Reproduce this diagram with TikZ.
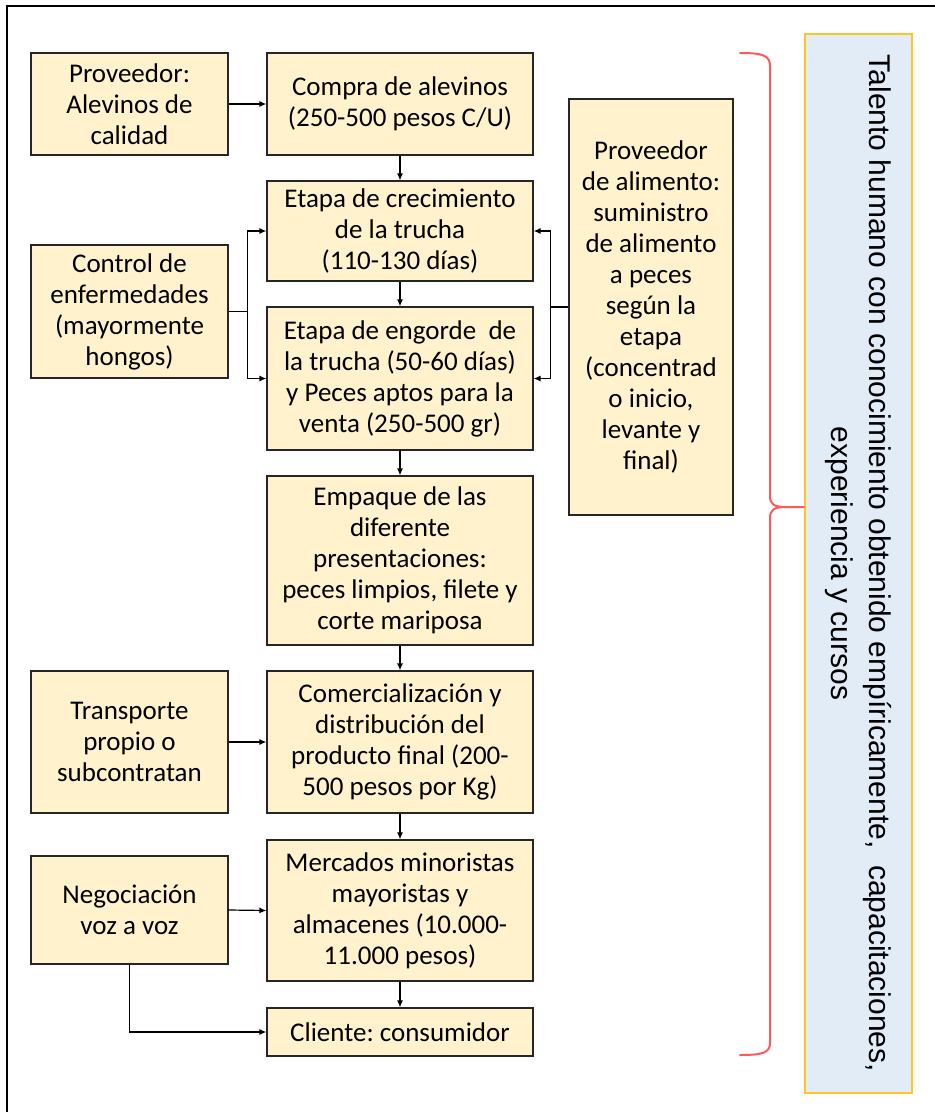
\documentclass[tikz,border=0pt]{standalone}
\usepackage{fontspec}
\setmainfont{Carlito}
\newfontfamily\sidefont{Liberation Sans}
\usetikzlibrary{arrows.meta}
\frenchspacing

\definecolor{boxfill}{HTML}{FFF2CC}
\definecolor{boxline}{HTML}{262626}
\definecolor{sidefill}{HTML}{E2ECF7}
\definecolor{sideline}{HTML}{FFC526}
\definecolor{bracered}{HTML}{FF5A5A}

\tikzset{
  stagebox/.style={draw=boxline, fill=boxfill, line width=1.2pt, align=center,
    inner sep=0pt, font=\fontsize{27}{31}\selectfont},
  conn/.style={draw=black, line width=1.2pt},
  flow/.style={conn, -{Latex[length=7pt,width=6pt]}},
  bracestroke/.style={draw=bracered, line width=2pt, line cap=round, line join=round},
  sidebox/.style={draw=sideline, fill=sidefill, line width=2pt, align=center, inner sep=0pt,
    font=\sidefont\fontsize{30}{38}\selectfont}
}

\begin{document}
\begin{tikzpicture}[x=1pt,y=-1pt]
\useasboundingbox (0,0) rectangle (935,1112);

% outer frame (left and top edges)
\draw[line width=1.5pt] (7,1120) -- (7,6) -- (945,6);

% left column
\node[stagebox, minimum width=197pt, minimum height=102pt] (prov) at (129.5,104)
  {Proveedor:\\Alevinos de\\calidad};
\node[stagebox, minimum width=197pt, minimum height=133pt] (ctrl) at (129.5,311.5)
  {Control de\\enfermedades\\(mayormente\\hongos)};
\node[stagebox, minimum width=197pt, minimum height=142pt] (transp) at (129.5,742)
  {Transporte\\propio o\\subcontratan};
\node[stagebox, minimum width=197pt, minimum height=108pt] (neg) at (129.5,910)
  {Negociación\\voz a voz};

% main chain
\node[stagebox, minimum width=266pt, minimum height=102pt] (compra) at (400,104)
  {Compra de alevinos\\(250-500 pesos C/U)};
\node[stagebox, minimum width=266pt, minimum height=100pt] (crec) at (400,231)
  {Etapa de crecimiento\\de la trucha\\(110-130 días)};
\node[stagebox, minimum width=266pt, minimum height=143pt] (engorde) at (400,378.5)
  {Etapa de engorde\ \ de\\la trucha (50-60 días)\\y Peces aptos para la\\venta (250-500 gr)};
\node[stagebox, minimum width=266pt, minimum height=169pt] (empaque) at (400,560.5)
  {Empaque de las\\diferente\\presentaciones:\\peces limpios, filete y\\corte mariposa};
\node[stagebox, minimum width=266pt, minimum height=142pt] (comerc) at (400,742)
  {Comercialización y\\distribución del\\producto final (200-\\500 pesos por Kg)};
\node[stagebox, minimum width=266pt, minimum height=141pt] (merc) at (400,910.5)
  {Mercados minoristas\\mayoristas y\\almacenes (10.000-\\11.000 pesos)};
\node[stagebox, minimum width=266pt, minimum height=48pt] (cliente) at (400,1032)
  {Cliente: consumidor};

% feed supplier
\node[stagebox, minimum width=164pt, minimum height=416pt] (alim) at (651,307)
  {Proveedor\\de alimento:\\suministro\\de alimento\\a peces\\según la\\etapa\\(concentrad\\o inicio,\\levante y\\final)};

% side panel (rotated clockwise, so its south side faces left)
\node[sidebox, minimum width=1059pt, minimum height=107pt, rotate=-90] (talento) at (858.5,563.5)
  {Talento humano con conocimiento obtenido empíricamente,\ \ capacitaciones,\\experiencia y cursos};

% flow arrows
\draw[flow] (prov.east) -- (compra.west);
\draw[flow] (compra.south) -- (crec.north);
\draw[flow] (crec.south) -- (engorde.north);
\draw[flow] (engorde.south) -- (empaque.north);
\draw[flow] (empaque.south) -- (comerc.north);
\draw[flow] (comerc.south) -- (merc.north);
\draw[flow] (merc.south) -- (cliente.north);
\draw[flow] (transp.east) -- (comerc.west);
\draw[flow] (neg.east) -- (merc.west);
\draw[flow] (neg.south) |- (cliente.west);

% disease control feeds both growth stages
\draw[conn] (ctrl.east) -- ++(19,0) coordinate (cj);
\draw[flow] (cj) |- (crec.west);
\draw[flow] (cj) |- (engorde.west);

% feed supply to both growth stages
\draw[conn] (alim.west) -- ++(-18,0) coordinate (aj);
\draw[flow] (aj) |- (crec.east);
\draw[flow] (aj) |- (engorde.east);

% brace pointing to the side panel
\coordinate (tip) at (talento.south |- 0,507);
\draw[bracestroke] (740,53) .. controls (762,53) and (770,55) .. (770,66)
  -- (770,496) .. controls (770,504) and (774,507) .. (785,507) -- (tip);
\draw[bracestroke] (785,507) .. controls (774,507) and (770,510) .. (770,518)
  -- (770,1043) .. controls (770,1053) and (762,1055) .. (740,1055);
\end{tikzpicture}
\end{document}
